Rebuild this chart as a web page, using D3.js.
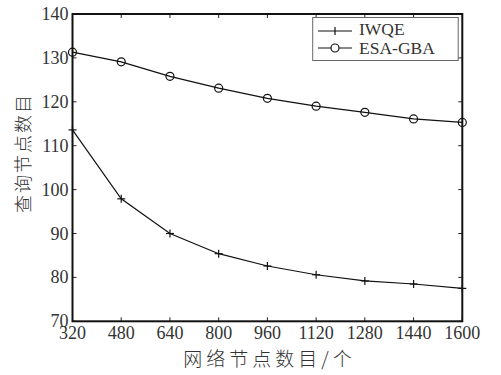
<!DOCTYPE html>
<html>
<head>
<meta charset="utf-8">
<script src="https://cdn.jsdelivr.net/npm/d3@7"></script>
<style>
  body { margin: 0; background: #fff; }
  svg text { font-family: "Liberation Serif", serif; fill: #333; }
  .cjk { font-family: "Noto Sans CJK SC", sans-serif; font-weight: 300; }
</style>
</head>
<body>
<svg id="chart"></svg>
<script>
// data
const nodes = [320, 480, 640, 800, 960, 1120, 1280, 1440, 1600];
const iwqe = [113.6, 97.9, 90.0, 85.4, 82.6, 80.6, 79.2, 78.5, 77.5];
const esaGba = [131.3, 129.1, 125.8, 123.1, 120.8, 119.0, 117.6, 116.1, 115.3];
const yTicks = [70, 80, 90, 100, 110, 120, 130, 140];

const W = 501, H = 375;
const pLeft = 72.5, pRight = 462.3, pTop = 14, pBottom = 321.3;

const svg = d3.select("#chart").attr("width", W).attr("height", H);

const x = d3.scaleLinear().domain([320, 1600]).range([pLeft, pRight]);
const y = d3.scaleLinear().domain([70, 140]).range([pBottom, pTop]);

// mirror ticks on top and right, pointing inward
const tl = 4;
const ticks = svg.append("g").attr("stroke", "#222").attr("stroke-width", 1);
nodes.forEach(v => {
  ticks.append("line").attr("x1", x(v)).attr("x2", x(v)).attr("y1", pBottom).attr("y2", pBottom - tl);
  ticks.append("line").attr("x1", x(v)).attr("x2", x(v)).attr("y1", pTop).attr("y2", pTop + tl);
});
yTicks.forEach(v => {
  ticks.append("line").attr("x1", pLeft).attr("x2", pLeft + tl).attr("y1", y(v)).attr("y2", y(v));
  ticks.append("line").attr("x1", pRight).attr("x2", pRight - tl).attr("y1", y(v)).attr("y2", y(v));
});

// frame
svg.append("rect")
  .attr("x", pLeft).attr("y", pTop)
  .attr("width", pRight - pLeft).attr("height", pBottom - pTop)
  .attr("fill", "none").attr("stroke", "#111").attr("stroke-width", 2);

// tick labels
svg.append("g").selectAll("text").data(nodes).enter().append("text")
  .attr("x", d => x(d)).attr("y", pBottom + 17.5)
  .attr("text-anchor", "middle").attr("font-size", 18)
  .text(d => d);

svg.append("g").selectAll("text").data(yTicks).enter().append("text")
  .attr("x", pLeft - 4).attr("y", d => y(d) + 6)
  .attr("text-anchor", "end").attr("font-size", 18)
  .text(d => d);

// axis titles
svg.append("text").attr("class", "cjk")
  .attr("x", 269.5).attr("y", 366)
  .attr("text-anchor", "middle").attr("font-size", 19)
  .attr("letter-spacing", 4)
  .text("网络节点数目/个");

svg.append("text").attr("class", "cjk")
  .attr("transform", "translate(30,153) rotate(-90)")
  .attr("text-anchor", "middle").attr("font-size", 18)
  .attr("letter-spacing", 2)
  .text("查询节点数目");

// lines
const line = d3.line().x((d, i) => x(nodes[i])).y(d => y(d));

svg.append("path").datum(iwqe)
  .attr("d", line).attr("fill", "none").attr("stroke", "#111").attr("stroke-width", 1.2);
svg.append("path").datum(esaGba)
  .attr("d", line).attr("fill", "none").attr("stroke", "#111").attr("stroke-width", 1.2);

// plus markers
const plus = svg.append("g").attr("stroke", "#111").attr("stroke-width", 1.2);
iwqe.forEach((v, i) => {
  plus.append("line").attr("x1", x(nodes[i]) - 4).attr("x2", x(nodes[i]) + 4).attr("y1", y(v)).attr("y2", y(v));
  plus.append("line").attr("x1", x(nodes[i])).attr("x2", x(nodes[i])).attr("y1", y(v) - 4).attr("y2", y(v) + 4);
});

// circle markers
svg.append("g").selectAll("circle").data(esaGba).enter().append("circle")
  .attr("cx", (d, i) => x(nodes[i])).attr("cy", d => y(d)).attr("r", 4)
  .attr("fill", "none").attr("stroke", "#111").attr("stroke-width", 1.2);

// legend
const lg = svg.append("g");
lg.append("rect")
  .attr("x", 312.7).attr("y", 17.5).attr("width", 145.5).attr("height", 43)
  .attr("fill", "#fff").attr("stroke", "#666").attr("stroke-width", 1);

lg.append("line").attr("x1", 318).attr("x2", 352).attr("y1", 31).attr("y2", 31)
  .attr("stroke", "#111").attr("stroke-width", 1.2);
lg.append("line").attr("x1", 335).attr("x2", 335).attr("y1", 27).attr("y2", 35)
  .attr("stroke", "#111").attr("stroke-width", 1.2);
lg.append("text").attr("x", 359).attr("y", 35).attr("font-size", 17.5).text("IWQE");

lg.append("line").attr("x1", 318).attr("x2", 352).attr("y1", 48).attr("y2", 48)
  .attr("stroke", "#111").attr("stroke-width", 1.2);
lg.append("circle").attr("cx", 335).attr("cy", 48).attr("r", 4)
  .attr("fill", "#fff").attr("stroke", "#111").attr("stroke-width", 1.2);
lg.append("text").attr("x", 359).attr("y", 54).attr("font-size", 17.5).text("ESA-GBA");
</script>
</body>
</html>
